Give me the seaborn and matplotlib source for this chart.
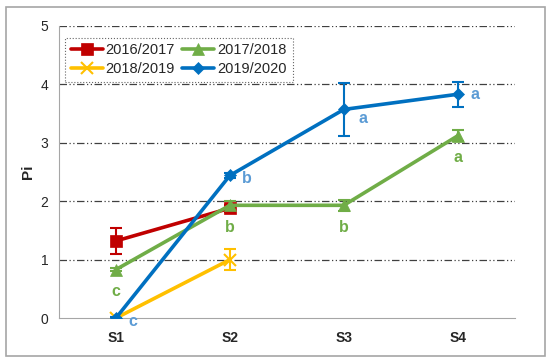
import numpy as np
import pandas as pd
import seaborn as sns
import matplotlib.pyplot as plt
from matplotlib.patches import Rectangle

stages = ["S1", "S2", "S3", "S4"]
seasons = ["2016/2017", "2017/2018", "2018/2019", "2019/2020"]

# values per season (None = not measured)
v_1617 = [1.32, 1.88, None, None]
v_1718 = [0.83, 1.93, 1.93, 3.12]
v_1819 = [0.0, 1.00, None, None]
v_1920 = [0.0, 2.44, 3.57, 3.83]

e_1617 = [0.22, 0.06, None, None]
e_1718 = [0.03, 0.08, 0.09, 0.09]
e_1819 = [0.02, 0.18, None, None]
e_1920 = [0.02, 0.04, 0.46, 0.21]

# significance letters
letters_1718 = ["c", "b", "b", "a"]
letters_1920 = ["c", "b", "a", "a"]

colors = {"2016/2017": "#C00000", "2017/2018": "#70AD47",
          "2018/2019": "#FFC000", "2019/2020": "#0070C0"}
markers = {"2016/2017": "s", "2017/2018": "^", "2018/2019": "x", "2019/2020": "D"}
msizes = {"2016/2017": 9, "2017/2018": 8, "2018/2019": 9, "2019/2020": 6}

rows = []
for s, vals, errs in zip(seasons, [v_1617, v_1718, v_1819, v_1920],
                         [e_1617, e_1718, e_1819, e_1920]):
    for i, (v, e) in enumerate(zip(vals, errs)):
        if v is not None:
            rows.append({"season": s, "x": i, "Pi": v, "err": e})
df = pd.DataFrame(rows)

sns.set_style("white")
plt.rcParams["font.family"] = ["Liberation Sans", "DejaVu Sans"]

fig = plt.figure(figsize=(5.5, 3.64), dpi=100)
fig.patches.append(Rectangle((0.011, 0.022), 0.98, 0.958, transform=fig.transFigure,
                             fill=False, edgecolor="#A6A6A6", linewidth=1.2))
ax = fig.add_axes([0.107, 0.126, 0.829, 0.803])

for y in range(1, 6):
    ax.axhline(y, color="#404040", linewidth=0.9, dashes=[6, 2, 1, 2, 1, 2], zorder=0)

for s in seasons:
    d = df[df["season"] == s]
    ax.errorbar(d["x"], d["Pi"], yerr=d["err"], fmt="none", ecolor=colors[s],
                elinewidth=1.5, capsize=4, capthick=1.5, zorder=2)
    sns.lineplot(data=d, x="x", y="Pi", ax=ax, color=colors[s], marker=markers[s],
                 markersize=msizes[s], markeredgecolor=colors[s],
                 markeredgewidth=1.5 if s == "2018/2019" else 0.5,
                 linewidth=2.6, label=s, zorder=3)

for i, l in enumerate(letters_1718):
    ax.text(i, v_1718[i] - 0.38, l, color="#70AD47", fontsize=11.5, ha="center",
            va="center", fontweight="bold")
off_1920 = [(0.15, -0.05), (0.15, -0.05), (0.17, -0.15), (0.15, 0.0)]
for i, l in enumerate(letters_1920):
    dx, dy = off_1920[i]
    ax.text(i + dx, v_1920[i] + dy, l, color="#5B9BD5", fontsize=11.5, ha="center",
            va="center", fontweight="bold")

ax.set_xlim(-0.5, 3.5)
ax.set_ylim(0, 5)
ax.set_xticks(range(4))
ax.set_xticklabels(stages, fontweight="bold", fontsize=10)
ax.set_xticks([-0.5, 0.5, 1.5, 2.5, 3.5], minor=True)
ax.tick_params(axis="x", which="major", length=0, pad=9)
ax.tick_params(axis="x", which="minor", length=4, color="#A6A6A6", direction="in")
ax.set_yticks(range(6))
ax.tick_params(axis="y", length=4, color="#A6A6A6", labelsize=10)
ax.set_xlabel("")
ax.set_ylabel("Pi", fontweight="bold", fontsize=11)
for side in ["top", "right"]:
    ax.spines[side].set_visible(False)
for side in ["left", "bottom"]:
    ax.spines[side].set_color("#A6A6A6")

# legend filled row by row: reorder handles for matplotlib's column filling
handles, labels = ax.get_legend_handles_labels()
order = [0, 2, 1, 3]
leg = ax.legend([handles[k] for k in order], [labels[k] for k in order],
                ncol=2, loc="upper left", bbox_to_anchor=(-0.003, 0.985), fontsize=10.5,
                frameon=True, fancybox=False, handlelength=2.2, columnspacing=0.5,
                borderpad=0.4, labelspacing=0.3, handletextpad=0.2)
leg.get_frame().set_edgecolor("#404040")
leg.get_frame().set_linestyle(":")
leg.get_frame().set_linewidth(0.8)

fig.savefig("out.png", dpi=100)
